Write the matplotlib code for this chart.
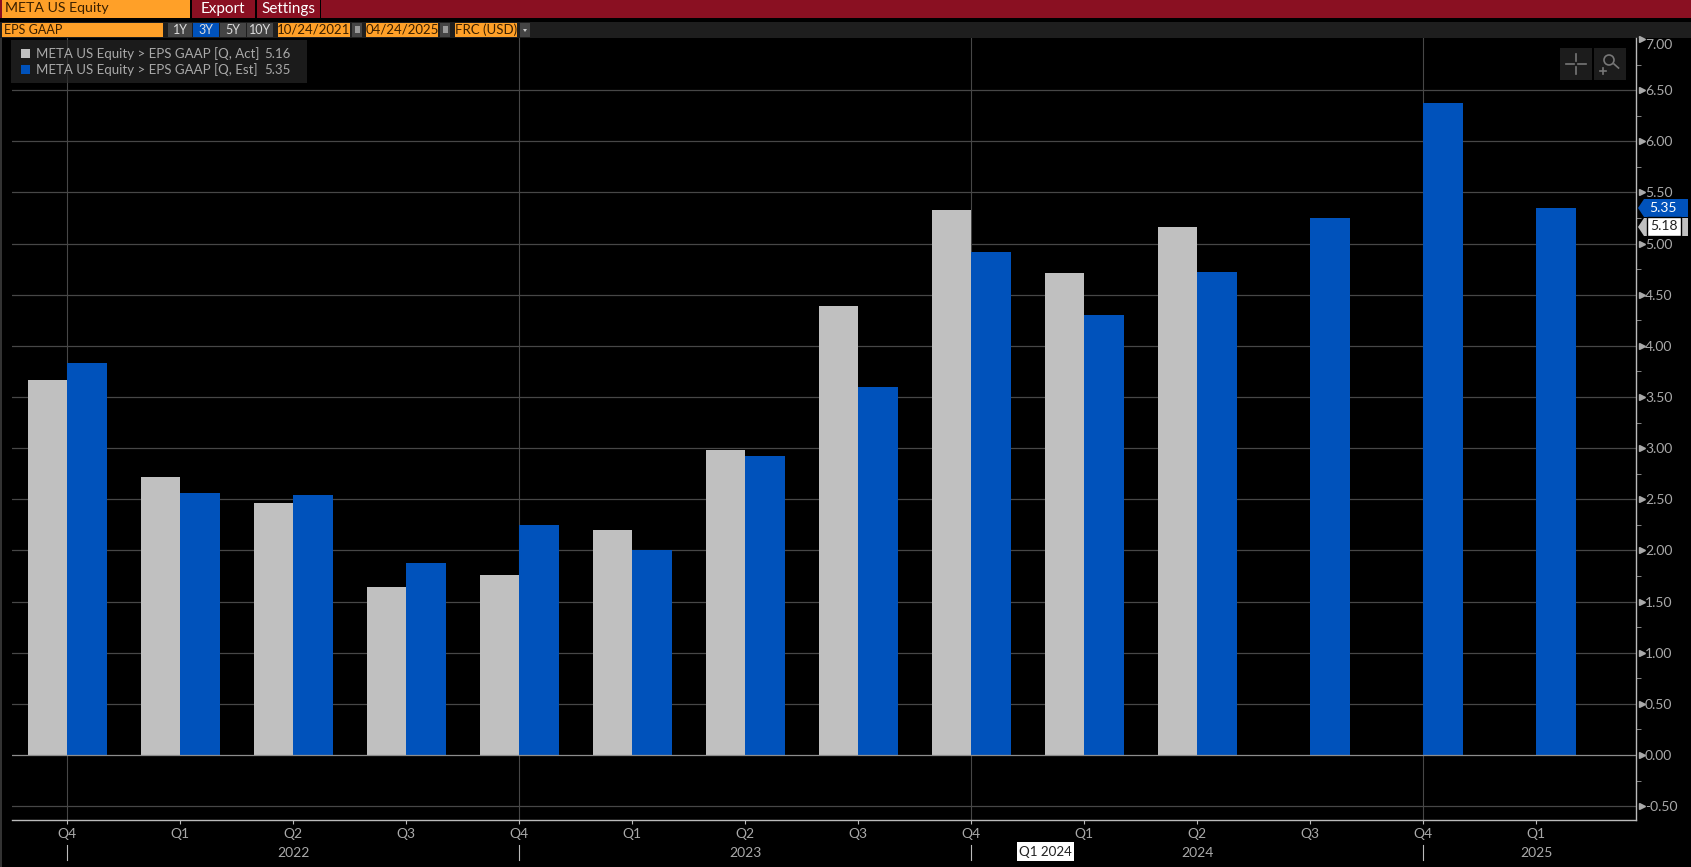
"""META EPS GAAP terminal-style bar chart."""
import matplotlib
matplotlib.use("Agg")
import matplotlib.pyplot as plt
from matplotlib.patches import Rectangle, Polygon

W, H = 1691, 867
GREY = "#c0c0c0"
BLUE = "#0052bb"
ORANGE = "#ffa028"
TXT = "#a9a9a9"
FONT = ["Lato", "Liberation Sans", "DejaVu Sans"]

quarters = ["Q4", "Q1", "Q2", "Q3", "Q4", "Q1", "Q2", "Q3", "Q4", "Q1", "Q2", "Q3", "Q4", "Q1"]
eps_act = [3.67, 2.72, 2.46, 1.64, 1.76, 2.20, 2.98, 4.39, 5.33, 4.71, 5.16]
eps_est = [3.83, 2.56, 2.54, 1.88, 2.25, 2.00, 2.92, 3.60, 4.92, 4.30, 4.72, 5.25, 6.37, 5.35]
year_idx = [2, 6, 10, 13]
year_lab = ["2022", "2023", "2024", "2025"]
vline_idx = [0, 4, 8, 12]
y_major = [-0.5, 0, 0.5, 1, 1.5, 2, 2.5, 3, 3.5, 4, 4.5, 5, 5.5, 6, 6.5, 7]

plt.rcParams["font.family"] = FONT
fig = plt.figure(figsize=(W / 100, H / 100), dpi=100, facecolor="black")

# pixel-space overlay for the terminal chrome
bg = fig.add_axes([0, 0, 1, 1], zorder=0)
bg.set_xlim(0, W)
bg.set_ylim(H, 0)
bg.axis("off")


def box(x0, y0, x1, y1, color, alpha=1.0, ax=bg, z=1):
    ax.add_patch(Rectangle((x0, y0), x1 - x0, y1 - y0, facecolor=color, edgecolor="none", alpha=alpha, zorder=z))


box(0, 0, W, 17.5, "#8a1022")
box(2, 0, 190, 17.5, ORANGE)
box(190, 0, 191.5, 17.5, "black")
box(255, 0, 256.5, 17.5, "black")
box(320, 0, 321, 17.5, "black")
bg.text(5, 8.5, "META US Equity", color="#3a2000", fontsize=10.2, va="center")
bg.text(223, 8.5, "Export", color="white", fontsize=11, va="center", ha="center")
bg.text(288, 8.5, "Settings", color="white", fontsize=11, va="center", ha="center")

box(0, 22, W, 37.5, "#1e1e1e")
box(2, 23, 163, 37, ORANGE)
bg.text(4, 30, "EPS GAAP", color="#3a2000", fontsize=9, va="center")
for x0, x1, lab, col in [(168, 192, "1Y", "#444444"), (193, 219, "3Y", BLUE),
                         (220, 246, "5Y", "#444444"), (247, 273, "10Y", "#444444")]:
    box(x0, 23, x1, 37, col)
    bg.text((x0 + x1) / 2, 30, lab, color="#dddddd", fontsize=9, va="center", ha="center")
for x0, x1, lab in [(278, 350, "10/24/2021"), (366, 438, "04/24/2025"), (455, 517, "FRC (USD)")]:
    box(x0, 23, x1, 37, ORANGE)
    bg.text((x0 + x1) / 2, 30, lab, color="#3a2000", fontsize=9.5, va="center", ha="center")
for x0 in (352, 440):
    box(x0, 23, x0 + 10, 37, "#444444")
    box(x0 + 2.5, 26, x0 + 7.5, 33, "#999999")
box(520, 23, 530, 37, "#444444")
bg.add_patch(Polygon([(523, 29), (527, 29), (525, 32)], facecolor="#cccccc", zorder=2))
box(0, 38, 1.5, H, "#333333")

# main chart
L, R, T, B = 12, 1636, 38, 820
ax = fig.add_axes([L / W, 1 - B / H, (R - L) / W, (B - T) / H], zorder=1)
ax.set_facecolor("none")
ax.set_xlim((L - 67) / 113, (R - 67) / 113)
ax.set_ylim(-0.635, 7.01)

width = 0.345
for v in y_major[:-1]:
    ax.axhline(v, color="#8c8c8c" if v == 0 else "#474747", lw=0.9, zorder=3 if v == 0 else 1)
for i in vline_idx:
    ax.axvline(i, color="#474747", lw=0.8, zorder=1)
ax.bar([i - width / 2 for i in range(len(eps_act))], eps_act, width, color=GREY, zorder=2)
ax.bar([i + 0.176 for i in range(len(eps_est))], eps_est, 0.352, color=BLUE, zorder=2)

for s in ("top", "left"):
    ax.spines[s].set_visible(False)
for s in ("bottom", "right"):
    ax.spines[s].set_color("#bbbbbb")
    ax.spines[s].set_linewidth(1)

ax.yaxis.tick_right()
ax.set_yticks(y_major)
ylabels = ax.set_yticklabels([f"{v:.2f}" for v in y_major])
ylabels[-1].set_va("top")
ax.set_yticks([v + 0.25 for v in y_major[:-1]], minor=True)
ax.tick_params(axis="y", which="major", length=0, pad=6.5, labelcolor=TXT, labelsize=10)
ax.tick_params(axis="y", which="minor", length=3.5, color="#999999", labelright=False)
ax.plot([1.0035] * len(y_major), y_major, ls="none", marker=">", ms=4, color="#aaaaaa",
        transform=ax.get_yaxis_transform(), clip_on=False, zorder=5)

ax.set_xticks(range(len(quarters)))
ax.set_xticklabels(quarters)
ax.tick_params(axis="x", length=3, color="#bbbbbb", pad=3, labelcolor=TXT, labelsize=10)

# year labels and long year ticks, in the pixel overlay
to_px = lambda i: 67 + 113 * i
for i, lab in zip(year_idx, year_lab):
    bg.text(to_px(i), 853, lab, color=TXT, fontsize=10, ha="center", va="center")
for i in vline_idx:
    bg.plot([to_px(i), to_px(i)], [845, 860], color="#bbbbbb", lw=0.8)

box(1017, 842, 1074, 861, "white", z=3)
bg.text(1045.5, 851.5, "Q1 2024", color="#222222", fontsize=9.6, ha="center", va="center", zorder=4)

# overlay on top of the chart
top = fig.add_axes([0, 0, 1, 1], zorder=2)
top.set_xlim(0, W)
top.set_ylim(H, 0)
top.axis("off")
top.patch.set_alpha(0)

box(11, 40, 307, 83, "#2a2a2a", alpha=0.65, ax=top)
box(21, 49, 30, 58, GREY, ax=top, z=2)
box(21, 65, 30, 74, BLUE, ax=top, z=2)
for y, lab, val in [(53.5, "META US Equity > EPS GAAP [Q, Act]", eps_act[-1]),
                    (69.5, "META US Equity > EPS GAAP [Q, Est]", eps_est[-1])]:
    top.text(36.5, y, lab, color=TXT, fontsize=9.5, va="center")
    top.text(264, y, f"{val:.2f}", color=TXT, fontsize=9.5, va="center")

# zoom / crosshair buttons
box(1560, 48, 1592, 80, "#1c1c1c", ax=top)
box(1594, 48, 1626, 80, "#1c1c1c", ax=top)
for xs, ys in [([1566, 1574], [64, 64]), ([1578, 1586], [64, 64]),
               ([1576, 1576], [54, 61]), ([1576, 1576], [67, 74]),
               ([1600, 1606], [71, 71]), ([1603, 1603], [68, 74]), ([1614, 1618.5], [64, 68])]:
    top.plot(xs, ys, color="#777777", lw=1.2, zorder=3)
top.add_patch(plt.Circle((1609, 60), 5, fill=False, edgecolor="#777777", lw=1.2, zorder=3))

# last value tags
top.add_patch(Polygon([(1638, 208), (1644, 199), (1688, 199), (1688, 217), (1644, 217)],
                      facecolor=BLUE, edgecolor="none", zorder=3))
top.text(1663, 208, f"{eps_est[-1]:.2f}", color="white", fontsize=10, ha="center", va="center", zorder=4)
top.add_patch(Polygon([(1638, 227), (1644, 218), (1688, 218), (1688, 236), (1644, 236)],
                      facecolor=GREY, edgecolor="none", zorder=3))
box(1647, 217, 1681, 235.5, "white", ax=top, z=4)
top.add_patch(Rectangle((1647, 217), 34, 18.5, fill=False, edgecolor="black", lw=1, zorder=5))
top.text(1664, 226.5, "5.18", color="#222222", fontsize=10, ha="center", va="center", zorder=6)

fig.savefig("out.png", dpi=100, facecolor="black")
